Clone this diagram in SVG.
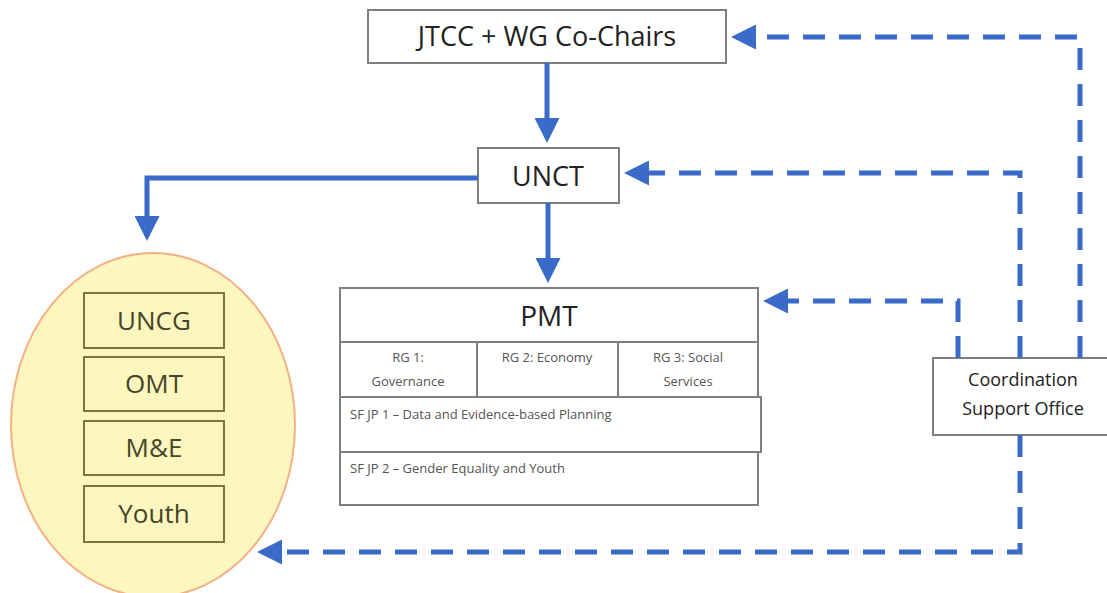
<svg xmlns="http://www.w3.org/2000/svg" width="1107" height="593" viewBox="0 0 1107 593">
<style>
.box{fill:#fff;stroke:#7f7f7f;stroke-width:2}
.t{font-family:"Open Sans","Liberation Sans",sans-serif;fill:#222;text-anchor:middle}
.s{font-family:"Open Sans","Liberation Sans",sans-serif;fill:#555;font-size:13px}
.ib{fill:none;stroke:#77773f;stroke-width:2}
.it{font-family:"Open Sans","Liberation Sans",sans-serif;fill:#45452a;font-size:26px;text-anchor:middle}
.solid{fill:none;stroke:#3a6bc8;stroke-width:5}
.dash{fill:none;stroke:#3a6bc8;stroke-width:5;stroke-dasharray:22 14}
</style>
<defs>
<marker id="ah" markerWidth="5" markerHeight="5" refX="4" refY="2.5" orient="auto" markerUnits="strokeWidth">
<path d="M0,0 L5,2.5 L0,5 Z" fill="#3a6bc8"/>
</marker>
</defs>
<g id="groups">
<ellipse cx="153" cy="425" rx="142" ry="172" fill="#fdf6bf" stroke="#f4b183" stroke-width="2"/>
<rect class="ib" x="84" y="293" width="140" height="55"/>
<text class="it" x="154" y="330">UNCG</text>
<rect class="ib" x="84" y="357" width="140" height="54"/>
<text class="it" x="154" y="393">OMT</text>
<rect class="ib" x="84" y="421" width="140" height="54"/>
<text class="it" x="154" y="457">M&amp;E</text>
<rect class="ib" x="84" y="486" width="140" height="56"/>
<text class="it" x="154" y="523">Youth</text>
</g>
<g id="jtcc">
<rect class="box" x="368" y="10" width="358" height="53"/>
<text class="t" x="547" y="46" font-size="27">JTCC + WG Co-Chairs</text>
</g>
<g id="unct">
<rect class="box" x="478" y="148" width="141" height="55"/>
<text class="t" x="548" y="186" font-size="27">UNCT</text>
</g>
<g id="pmt">
<rect class="box" x="340" y="288" width="418" height="54"/>
<text class="t" x="549" y="326" font-size="28">PMT</text>
<rect class="box" x="340" y="342" width="137" height="55"/>
<rect class="box" x="477" y="342" width="141" height="55"/>
<rect class="box" x="618" y="342" width="140" height="55"/>
<text class="s" x="408" y="362" text-anchor="middle">RG 1:</text>
<text class="s" x="408" y="386" text-anchor="middle">Governance</text>
<text class="s" x="547" y="362" text-anchor="middle">RG 2: Economy</text>
<text class="s" x="688" y="362" text-anchor="middle">RG 3: Social</text>
<text class="s" x="688" y="386" text-anchor="middle">Services</text>
<rect class="box" x="340" y="397" width="421" height="55"/>
<text class="s" x="350" y="419">SF JP 1 – Data and Evidence-based Planning</text>
<rect class="box" x="340" y="452" width="418" height="53"/>
<text class="s" x="350" y="473">SF JP 2 – Gender Equality and Youth</text>
</g>
<g id="cso">
<rect class="box" x="933" y="358" width="180" height="77"/>
<text class="t" x="1023" y="386" font-size="18">Coordination</text>
<text class="t" x="1023" y="415" font-size="18">Support Office</text>
</g>
<g id="connectors">
<path class="solid" d="M547,63 L547,138" marker-end="url(#ah)"/>
<path class="solid" d="M548,203 L548,278" marker-end="url(#ah)"/>
<path class="solid" d="M478,178 L147,178 L147,236" marker-end="url(#ah)"/>
<path class="dash" d="M1080,358 L1080,37 L736,37" marker-end="url(#ah)"/>
<path class="dash" d="M1020,358 L1020,173 L629,173" marker-end="url(#ah)"/>
<path class="dash" d="M958,358 L958,301 L768,301" marker-end="url(#ah)"/>
<path class="dash" d="M1020,435 L1020,552 L262,552" marker-end="url(#ah)"/>
</g>
</svg>
